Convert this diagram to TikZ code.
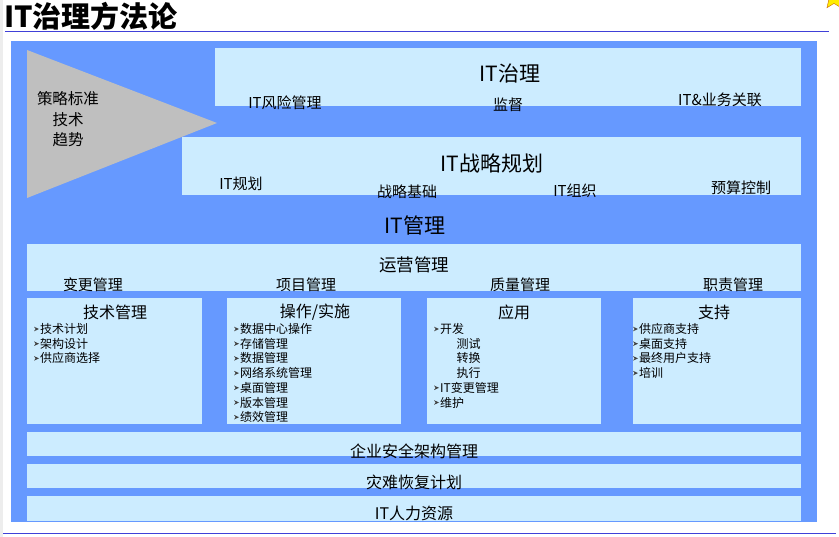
\documentclass[tikz,border=0pt]{standalone}
\usepackage{fontspec}
\setmainfont{Noto Sans CJK SC}
\usetikzlibrary{shapes.geometric}
\definecolor{outerblue}{HTML}{6699FF}
\definecolor{boxblue}{HTML}{CCECFF}
\definecolor{lineblue}{HTML}{4040D8}
\definecolor{trigray}{HTML}{BFBFBF}
\begin{document}
\begin{tikzpicture}[x=1pt,y=-1pt,
  txt/.style={inner sep=0pt,text=black},
  fbig/.style={txt,font=\fontsize{21}{21}\selectfont},
  fmid/.style={txt,font=\fontsize{17.5}{18}\selectfont},
  flab/.style={txt,font=\fontsize{15}{15}\selectfont},
  fttl/.style={txt,font=\fontsize{16}{16}\selectfont},
  fitm/.style={txt,anchor=west,font=\fontsize{12}{12}\selectfont},
  bul/.style={fill=black!75}]
\newcommand\bulletat[2]{\fill[bul] (#1,#2-2.3) -- (#1+5,#2) -- (#1,#2+2.3) -- (#1+1.6,#2) -- cycle;}
\useasboundingbox (0,0) rectangle (839,537);
\fill[white] (0,0) rectangle (839,537);
% left frame strip
\fill[black!7] (0,0) rectangle (3,537);
% star
\node[star,star points=5,star point ratio=2.2,fill=yellow!95!orange,draw=orange!80!black,minimum size=24pt,inner sep=0pt] (star) at (834,-2) {};
% title
\node[txt,anchor=west,font=\fontsize{29}{29}\selectfont\bfseries] (title) at (4,16) {IT治理方法论};
\draw[lineblue,line width=1.8pt] (5,31.5) -- (829,31.5);
\draw[lineblue,line width=1.8pt] (3,533.5) -- (836,533.5);
% outer
\fill[outerblue] (11,41) rectangle (817,522);
% upper boxes
\fill[boxblue] (215,48) rectangle (801,106);
\fill[boxblue] (182,137) rectangle (801,195);
\fill[trigray] (27,50) -- (217,123) -- (27,198) -- cycle;
\node[flab,font=\fontsize{15.5}{16}\selectfont] (tr1) at (68,99) {策略标准};
\node[flab,font=\fontsize{15.5}{16}\selectfont] (tr2) at (68,120) {技术};
\node[flab,font=\fontsize{15.5}{16}\selectfont] (tr3) at (68,140) {趋势};
\node[fbig] (gov) at (510,74) {IT治理};
\node[flab] (gov1) at (285,103) {IT风险管理};
\node[flab] (gov2) at (508,105) {监督};
\node[flab] (gov3) at (720,100) {IT\&业务关联};
\node[fbig] (str) at (492,163) {IT战略规划};
\node[flab] (str1) at (241,184) {IT规划};
\node[flab] (str2) at (407,192) {战略基础};
\node[flab] (str3) at (575,191) {IT组织};
\node[flab] (str4) at (741,188) {预算控制};
% IT management
\node[fbig] (mgmt) at (415,225) {IT管理};
\fill[boxblue] (27,244) rectangle (801,291);
\node[fmid] (ops) at (414,265) {运营管理};
\node[flab] (ops1) at (93,285) {变更管理};
\node[flab] (ops2) at (306,285) {项目管理};
\node[flab] (ops3) at (520,285) {质量管理};
\node[flab] (ops4) at (733,285) {职责管理};
% four boxes
\fill[boxblue] (27,298) rectangle (202,424);
\fill[boxblue] (227,298) rectangle (401,424);
\fill[boxblue] (427,298) rectangle (601,424);
\fill[boxblue] (633,298) rectangle (801,424);
\node[fttl] (b1) at (115,312) {技术管理};
\node[fttl] (b2) at (315,312) {操作/实施};
\node[fttl] (b3) at (514,312) {应用};
\node[fttl] (b4) at (714,312) {支持};
% items
\foreach \t [count=\i] in {技术计划,架构设计,供应商选择}{
  \bulletat{34}{314.3+14.7*\i}
  \node[fitm] (a\i) at (40,{314.3+14.7*\i}) {\t};}
\foreach \t [count=\i] in {数据中心操作,存储管理,数据管理,网络系统管理,桌面管理,版本管理,绩效管理}{
  \bulletat{234}{314.3+14.7*\i}
  \node[fitm] (o\i) at (240,{314.3+14.7*\i}) {\t};}
\foreach \t [count=\i] in {供应商支持,桌面支持,最终用户支持,培训}{
  \bulletat{633}{314.3+14.7*\i}
  \node[fitm] (s\i) at (639,{314.3+14.7*\i}) {\t};}
\bulletat{434}{329}
\node[fitm] (p1) at (440,329) {开发};
\node[fitm] (p2) at (456.5,343.7) {测试};
\node[fitm] (p3) at (456.5,358.4) {转换};
\node[fitm] (p4) at (456.5,373.1) {执行};
\bulletat{434}{387.8}
\node[fitm] (p5) at (440,387.8) {IT变更管理};
\bulletat{434}{402.5}
\node[fitm] (p6) at (440,402.5) {维护};
% bottom bars
\fill[boxblue] (27,432) rectangle (801,456);
\fill[boxblue] (27,464) rectangle (801,488);
\fill[boxblue] (27,496) rectangle (801,521);
\node[fttl] (bar1) at (414,451.5) {企业安全架构管理};
\node[fttl] (bar2) at (414,482.5) {灾难恢复计划};
\node[fttl] (bar3) at (414,513.5) {IT人力资源};
\end{tikzpicture}
\end{document}
